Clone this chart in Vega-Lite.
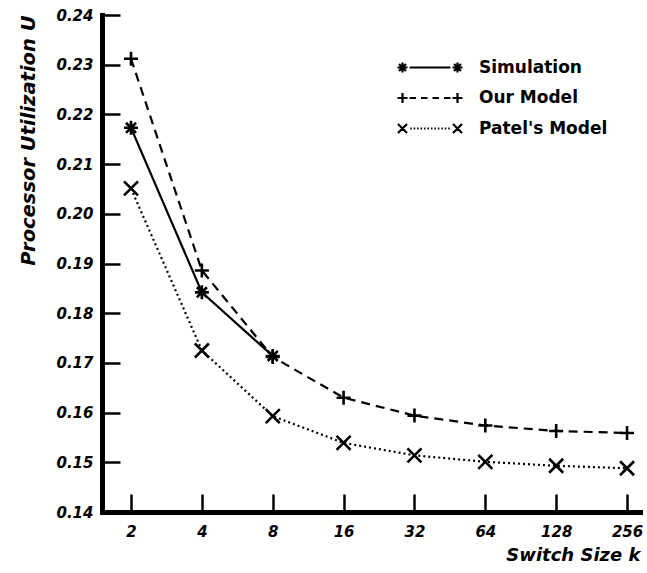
{
  "$schema": "https://vega.github.io/schema/vega-lite/v6.json",
  "width": 538,
  "height": 497,
  "autosize": "none",
  "padding": {"left": 102, "top": 15, "right": 7, "bottom": 61},
  "background": "white",
  "config": {
    "view": {"stroke": null},
    "axis": {
      "domainColor": "black",
      "domainWidth": 5,
      "domainCap": "square",
      "tickColor": "black",
      "tickWidth": 2.5,
      "tickSize": -18,
      "grid": false,
      "labelFont": "DejaVu Sans",
      "labelFontWeight": "bold",
      "labelFontStyle": "italic",
      "labelColor": "black",
      "labelFontSize": 15,
      "titleFont": "DejaVu Sans",
      "titleFontWeight": "bold",
      "titleFontStyle": "italic",
      "titleColor": "black"
    }
  },
  "data": {
    "values": [
      {"k": 2, "series": "Simulation", "u": 0.2173},
      {"k": 4, "series": "Simulation", "u": 0.1842},
      {"k": 8, "series": "Simulation", "u": 0.1714},
      {"k": 2, "series": "Our Model", "u": 0.2312},
      {"k": 4, "series": "Our Model", "u": 0.1886},
      {"k": 8, "series": "Our Model", "u": 0.1712},
      {"k": 16, "series": "Our Model", "u": 0.1630},
      {"k": 32, "series": "Our Model", "u": 0.1594},
      {"k": 64, "series": "Our Model", "u": 0.1574},
      {"k": 128, "series": "Our Model", "u": 0.1563},
      {"k": 256, "series": "Our Model", "u": 0.1559},
      {"k": 2, "series": "Patel's Model", "u": 0.2051},
      {"k": 4, "series": "Patel's Model", "u": 0.1725},
      {"k": 8, "series": "Patel's Model", "u": 0.1593},
      {"k": 16, "series": "Patel's Model", "u": 0.1539},
      {"k": 32, "series": "Patel's Model", "u": 0.1514},
      {"k": 64, "series": "Patel's Model", "u": 0.1501},
      {"k": 128, "series": "Patel's Model", "u": 0.1493},
      {"k": 256, "series": "Patel's Model", "u": 0.1488}
    ]
  },
  "encoding": {
    "x": {
      "field": "k",
      "type": "quantitative",
      "scale": {"type": "log", "base": 2, "domain": [1.506, 290.6], "nice": false},
      "axis": {
        "values": [2, 4, 8, 16, 32, 64, 128, 256],
        "format": "d",
        "title": "Switch Size k",
        "titleAnchor": "end",
        "titleFontSize": 18,
        "titlePadding": 7,
        "labelPadding": 30
      }
    },
    "y": {
      "field": "u",
      "type": "quantitative",
      "scale": {"domain": [0.14, 0.24], "nice": false, "zero": false},
      "axis": {
        "values": [0.14, 0.15, 0.16, 0.17, 0.18, 0.19, 0.2, 0.21, 0.22, 0.23, 0.24],
        "format": ".2f",
        "title": "Processor Utilization U",
        "titleAnchor": "end",
        "titleFontSize": 19.5,
        "titlePadding": 17,
        "labelPadding": 27
      }
    }
  },
  "layer": [
    {
      "mark": {"type": "line", "color": "black", "strokeWidth": 2.2},
      "encoding": {
        "strokeDash": {
          "field": "series",
          "type": "nominal",
          "scale": {"domain": ["Simulation", "Our Model", "Patel's Model"], "range": [[1, 0], [9, 6], [2, 3]]},
          "legend": null
        }
      }
    },
    {
      "mark": {"type": "point", "color": "black", "filled": false, "strokeWidth": 2.6, "size": 196, "opacity": 1},
      "encoding": {
        "shape": {
          "field": "series",
          "type": "nominal",
          "scale": {
            "domain": ["Simulation", "Our Model", "Patel's Model"],
            "range": [
              "M-1,0L1,0M0,-1L0,1M-0.72,-0.72L0.72,0.72M-0.72,0.72L0.72,-0.72",
              "M-1,0L1,0M0,-1L0,1",
              "M-1,-1L1,1M-1,1L1,-1"
            ]
          },
          "legend": null
        }
      }
    },
    {
      "mark": {"type": "point", "color": "black", "filled": false, "strokeWidth": 2, "opacity": 0},
      "encoding": {
        "shape": {
          "field": "series",
          "type": "nominal",
          "scale": {
            "domain": ["Simulation", "Our Model", "Patel's Model"],
            "range": [
              "M-1,0L-0.333,0M-0.667,-0.333L-0.667,0.333M-0.9,-0.233L-0.433,0.233M-0.9,0.233L-0.433,-0.233M-0.2,0L2.53,0M2.667,0L3.333,0M3,-0.333L3,0.333M2.767,-0.233L3.233,0.233M2.767,0.233L3.233,-0.233",
              "M-1,0L-0.333,0M-0.667,-0.333L-0.667,0.333M-0.2,0L0.233,0M0.567,0L1,0M1.333,0L1.767,0M2.1,0L2.533,0M2.667,0L3.333,0M3,-0.333L3,0.333",
              "M-0.967,-0.3L-0.367,0.3M-0.967,0.3L-0.367,-0.3M-0.15,0L-0.05,0M0.08,0L0.18,0M0.31,0L0.41,0M0.54,0L0.64,0M0.77,0L0.87,0M1,0L1.1,0M1.23,0L1.33,0M1.46,0L1.56,0M1.69,0L1.79,0M1.92,0L2.02,0M2.15,0L2.25,0M2.38,0L2.48,0M2.7,-0.3L3.3,0.3M2.7,0.3L3.3,-0.3"
            ]
          },
          "legend": {
            "orient": "none",
            "legendX": 294,
            "legendY": 36,
            "title": null,
            "symbolSize": 900,
            "symbolStrokeWidth": 2.2,
            "symbolStrokeColor": "black",
            "symbolFillColor": "transparent",
            "symbolOpacity": 1,
            "labelFont": "DejaVu Sans",
            "labelFontWeight": "bold",
            "labelFontSize": 17,
            "labelColor": "black",
            "labelOffset": 50,
            "rowPadding": 4.5
          }
        }
      }
    }
  ],
  "resolve": {"scale": {"shape": "independent"}}
}
